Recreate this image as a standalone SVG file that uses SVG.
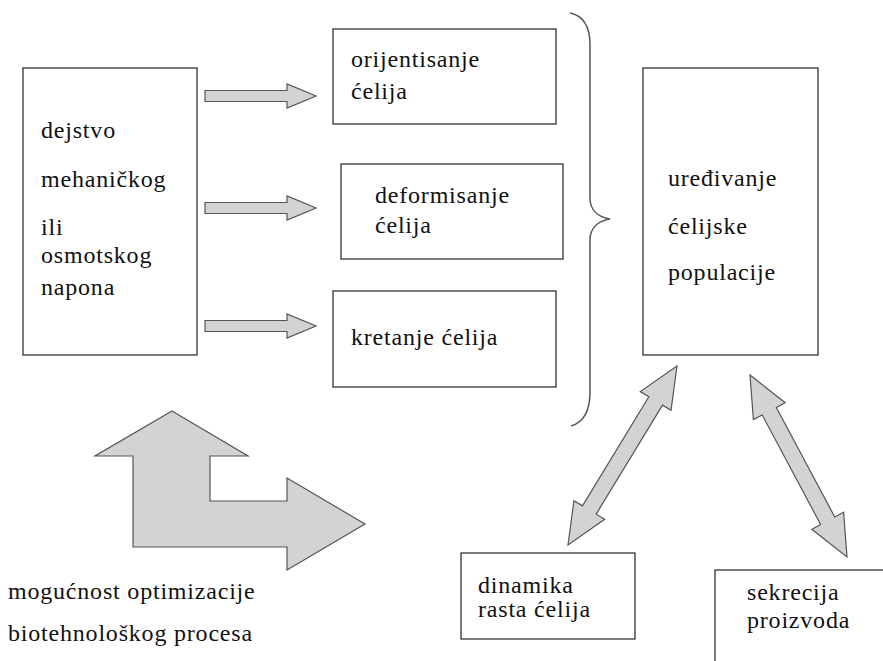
<svg xmlns="http://www.w3.org/2000/svg" width="883" height="661" viewBox="0 0 883 661" font-family="Liberation Serif, DejaVu Serif, serif">
<style>
.box{fill:#fff;stroke:#333;stroke-width:1.3}
.t{font-family:Liberation Serif, DejaVu Serif, serif;font-size:24px;fill:#111;letter-spacing:0.8px}
.arr{fill:#d3d3d3;stroke:#555;stroke-width:1.2;stroke-linejoin:miter}
.brace{fill:none;stroke:#555;stroke-width:1.5}
</style>
<defs>
<path id="harrow" d="M0,-5.5 L82,-5.5 L82,-12 L111,0 L82,12 L82,5.5 L0,5.5 Z"/>
</defs>
<rect width="883" height="661" fill="#fff"/>

<g id="node-source">
<rect class="box" x="23" y="68" width="174" height="287"/>
<text class="t" x="41" y="138">dejstvo</text>
<text class="t" x="41" y="187">mehaničkog</text>
<text class="t" x="41" y="235">ili</text>
<text class="t" x="41" y="263">osmotskog</text>
<text class="t" x="41" y="295">napona</text>
</g>

<g id="node-orient">
<rect class="box" x="333" y="29" width="223" height="95"/>
<text class="t" x="351" y="67">orijentisanje</text>
<text class="t" x="351" y="99">ćelija</text>
</g>

<g id="node-deform">
<rect class="box" x="341" y="164" width="222" height="95"/>
<text class="t" x="375" y="203">deformisanje</text>
<text class="t" x="375" y="233">ćelija</text>
</g>

<g id="node-move">
<rect class="box" x="333" y="291" width="223" height="96"/>
<text class="t" x="351" y="345">kretanje ćelija</text>
</g>

<g id="node-population">
<rect class="box" x="643" y="68" width="175" height="287"/>
<text class="t" x="668" y="186">uređivanje</text>
<text class="t" x="668" y="234">ćelijske</text>
<text class="t" x="668" y="280">populacije</text>
</g>

<g id="node-dynamics">
<rect class="box" x="461" y="553" width="174" height="86"/>
<text class="t" x="478" y="593">dinamika</text>
<text class="t" x="478" y="617">rasta ćelija</text>
</g>

<g id="node-secretion">
<rect class="box" x="715" y="570" width="190" height="110"/>
<text class="t" x="747" y="600">sekrecija</text>
<text class="t" x="747" y="628">proizvoda</text>
</g>

<g id="node-optimization">
<polygon class="arr" points="172,411 248,456 210,456 210,501 287,501 287,478 365,524 287,570 287,547 133,547 133,456 95,456"/>
<text class="t" x="8" y="599">mogućnost optimizacije</text>
<text class="t" x="8" y="641">biotehnološkog procesa</text>
</g>

<g id="connectors">
<use href="#harrow" class="arr" transform="translate(205,96)"/>
<use href="#harrow" class="arr" transform="translate(205,208)"/>
<use href="#harrow" class="arr" transform="translate(205,326)"/>
<path class="brace" d="M570,13 C585,16 590,28 590,45 L590,198 C590,210 598,217 610,219 C598,221 590,228 590,240 L590,392 C590,410 585,422 571,426"/>
<path class="arr" transform="translate(568,545) rotate(-58.67)" d="M0,0 L41,-18 L41,-8 L168.6,-8 L168.6,-18 L209.6,0 L168.6,18 L168.6,8 L41,8 L41,18 Z"/>
<path class="arr" transform="translate(750,375) rotate(61.94)" d="M0,0 L41,-18 L41,-8 L165.2,-8 L165.2,-18 L206.2,0 L165.2,18 L165.2,8 L41,8 L41,18 Z"/>
</g>
</svg>
